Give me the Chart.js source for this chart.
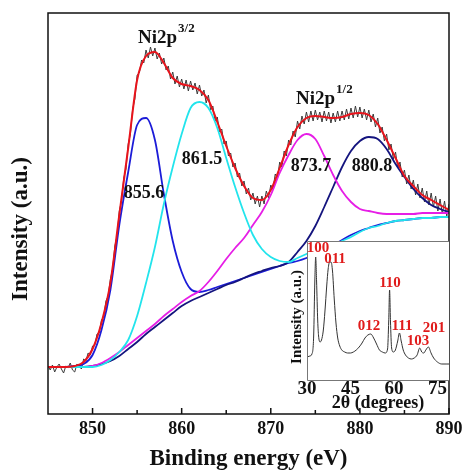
<!DOCTYPE html>
<html>
<head>
<meta charset="utf-8">
<script src="https://cdn.jsdelivr.net/npm/chart.js@4.4.0/dist/chart.umd.min.js"></script>
<style>
  body { margin: 0; background: #fff; }
  #wrap { position: relative; width: 463px; height: 475px; }
  #main { position: absolute; left: 0; top: 0; }
  #inset { position: absolute; left: 280px; top: 236px; }
</style>
</head>
<body>
<div id="wrap">
  <canvas id="main" width="463" height="475"></canvas>
  <canvas id="inset" width="175" height="178"></canvas>
</div>
<script>
// Ni 2p XPS spectrum (intensity in a.u., 0 = flat baseline below 848 eV)
const fitEnergy = [845, 846, 847, 848, 849, 850, 851, 852, 853, 854, 855, 856, 857, 858, 859, 860,
  861, 862, 863, 864, 865, 866, 867, 868, 869, 870, 871, 872, 873, 874, 875, 876, 877, 878, 879,
  880, 881, 882, 883, 884, 885, 886, 887, 888, 889, 890];

const envelopeFit = [0, 0, 0, 1, 5, 18, 44, 84, 152, 219, 287, 311, 315, 304, 289, 283,
  281, 277, 267, 245, 221, 199, 181, 169, 167, 177, 199, 222, 240, 249, 251, 250, 249, 250, 253,
  254, 252, 243, 227, 209, 191, 181, 172, 167, 162, 157];

const peak855 = [0, 0, 0, 1, 3, 12, 37, 77, 142, 195, 242, 249, 227, 173, 126, 95,
  78, 75, 77, 80, 83, 86, 89, 92, 95, 98, 101, 104, 106, 109, 113, 118, 122, 127, 132,
  136, 139, 142, 144, 146, 147, 148, 149, 149, 150, 150];

const peak861 = [0, 0, 0, 0, 0, 0, 2, 7, 15, 27, 51, 84, 120, 163, 200, 233,
  259, 265, 259, 239, 209, 180, 154, 132, 118, 110, 106, 105, 109, 113, 117, 119, 121, 126, 130,
  135, 139, 141, 144, 146, 147, 148, 149, 149, 150, 150];

const peak873 = [0, 0, 0, 0, 0, 1, 4, 9, 15, 22, 29, 36, 43, 51, 58, 65,
  71, 76, 85, 96, 108, 119, 129, 142, 155, 172, 194, 212, 227, 233, 228, 211, 192, 176, 165,
  158, 156, 154, 153, 153, 153, 153, 154, 154, 154, 154];

const peak880 = [0, 0, 0, 0, 0, 1, 3, 6, 11, 18, 25, 33, 40, 47, 54, 61,
  66, 70, 74, 78, 82, 85, 89, 93, 96, 99, 101, 105, 115, 126, 141, 160, 180, 200, 216,
  226, 230, 228, 218, 203, 190, 178, 169, 162, 158, 155];

// raw scan, one reading every 0.25 eV from 845 eV
const scanStart = 845;
const scanStep = 0.25;
const rawCounts = [1, -3, 2, -5, 0, 3, -2, -6, 1, -1, 4, -3, -5, 3, 1, -2, 8,
  6, 14, 12, 21, 22, 33, 34, 47, 50, 66, 71, 88, 98, 121, 131, 156,
  166, 189, 198, 223, 233, 258, 268, 292, 294, 307, 304, 317, 309, 320, 311, 319,
  308, 314, 303, 309, 297, 301, 288, 295, 283, 291, 280, 288, 278, 287, 276, 286,
  277, 284, 273, 282, 271, 277, 264, 272, 257, 261, 246, 250, 235, 238, 223, 226,
  211, 214, 200, 204, 190, 194, 181, 186, 173, 179, 167, 174, 163, 171, 160, 171,
  163, 176, 169, 182, 178, 193, 189, 205, 200, 216, 211, 227, 222, 236, 230, 246,
  238, 251, 243, 255, 245, 256, 246, 257, 247, 255, 245, 256, 246, 255, 244, 254,
  245, 256, 246, 256, 247, 258, 248, 259, 249, 261, 250, 260, 249, 258, 247, 257,
  245, 253, 240, 249, 234, 240, 226, 233, 217, 223, 208, 215, 199, 205, 190, 197,
  183, 192, 178, 187, 172, 183, 169, 179, 165, 176, 162, 174, 160, 171, 156, 168,
  153, 166, 151, 163];

const energyTicks = [850, 860, 870, 880, 890];
const energyMinorTicks = [855, 865, 875, 885];
const peakLabels = ['855.6', '861.5', '873.7', '880.8'];

// XRD inset
const twoTheta = [30, 31, 31.7, 32.3, 32.7, 33, 33.3, 33.7, 34, 34.5, 35, 35.6, 36.2, 36.8, 37.3,
  37.8, 38.3, 38.8, 39.4, 40, 40.6, 41.3, 42, 43, 44, 45, 46, 47, 48, 49, 50, 51, 52, 53, 54,
  55, 56, 57, 57.8, 58.2, 58.5, 58.8, 59.2, 59.8, 60.5, 61.3, 61.9, 62.5, 63.2, 64, 65, 66, 67,
  68, 68.9, 69.6, 70.3, 71, 71.9, 72.8, 73.7, 75, 76.5, 78, 79];
const xrdIntensity = [24, 25, 27, 45, 100, 124, 100, 60, 45, 39, 41, 50, 70, 95, 112,
  119, 119, 110, 82, 58, 43, 35, 31, 29, 28, 28, 29, 31, 34, 38, 43, 46, 47, 43, 37,
  31, 29, 28, 32, 60, 91, 60, 33, 29, 31, 40, 48, 40, 31, 26, 23, 22, 23,
  26, 33, 29, 28, 31, 34, 28, 23, 19, 17, 17, 17];
const xrdTicks = [30, 45, 60, 75];
const hklLabels = ['100', '011', '110', '012', '111', '103', '201'];

const serif = "'Liberation Serif', 'Times New Roman', serif";
const pts = (xs, ys) => ys.map((y, i) => ({ x: xs[i], y: y }));
const scanPts = rawCounts.map((y, i) => ({ x: scanStart + i * scanStep, y: y }));

const mainDecor = {
  id: 'mainDecor',
  afterDraw(chart) {
    const ctx = chart.ctx, a = chart.chartArea, xs = chart.scales.x;
    ctx.save();
    ctx.strokeStyle = '#111';
    ctx.lineWidth = 1.5;
    ctx.strokeRect(a.left, a.top, a.right - a.left, a.bottom - a.top);
    ctx.beginPath();
    energyTicks.forEach(v => { const p = xs.getPixelForValue(v); ctx.moveTo(p, a.bottom); ctx.lineTo(p, a.bottom - 6); });
    energyMinorTicks.forEach(v => { const p = xs.getPixelForValue(v); ctx.moveTo(p, a.bottom); ctx.lineTo(p, a.bottom - 4); });
    ctx.stroke();

    ctx.fillStyle = '#111';
    ctx.textAlign = 'center';
    ctx.textBaseline = 'middle';
    ctx.font = 'bold 18px ' + serif;
    const spots = [[144, 193], [202, 159], [311, 166], [372, 166]];
    peakLabels.forEach((t, i) => ctx.fillText(t, spots[i][0], spots[i][1]));

    ctx.textAlign = 'left';
    ctx.textBaseline = 'alphabetic';
    [[138, 43, '3/2'], [296, 104, '1/2']].forEach(([x, y, s]) => {
      ctx.font = 'bold 19px ' + serif;
      ctx.fillText('Ni2p', x, y);
      const w = ctx.measureText('Ni2p').width;
      ctx.font = 'bold 13px ' + serif;
      ctx.fillText(s, x + w + 1, y - 11);
    });

    ctx.translate(21, 229);
    ctx.rotate(-Math.PI / 2);
    ctx.textAlign = 'center';
    ctx.textBaseline = 'middle';
    ctx.font = 'bold 23px ' + serif;
    ctx.fillText('Intensity (a.u.)', 0, 0);
    ctx.restore();
  }
};

const line = (data, color, width, order, smooth) => ({
  data: data, borderColor: color, borderWidth: width, pointRadius: 0, order: order,
  fill: false, cubicInterpolationMode: smooth ? 'monotone' : 'default', tension: 0
});

new Chart(document.getElementById('main'), {
  type: 'line',
  data: {
    datasets: [
      line(pts(fitEnergy, envelopeFit), '#e8141c', 2, 0, true),
      line(pts(fitEnergy, peak861), '#22e4ec', 1.8, 1, true),
      line(pts(fitEnergy, peak873), '#e61ee6', 1.8, 2, true),
      line(pts(fitEnergy, peak880), '#14147e', 1.8, 3, true),
      line(pts(fitEnergy, peak855), '#1c1cd8', 1.8, 4, true),
      line(scanPts, '#3a3a3a', 1, 5, false)
    ]
  },
  options: {
    responsive: false,
    animation: false,
    devicePixelRatio: 1,
    events: [],
    layout: { padding: { left: 48, right: 14, top: 13, bottom: 0 } },
    plugins: { legend: { display: false }, tooltip: { enabled: false } },
    scales: {
      x: {
        type: 'linear', min: 845, max: 890,
        border: { display: false },
        grid: { display: false, drawTicks: false },
        afterBuildTicks: s => { s.ticks = energyTicks.map(v => ({ value: v })); },
        ticks: { autoSkip: false, maxRotation: 0, padding: 0, color: '#111',
          font: { family: serif, weight: 'bold', size: 18, lineHeight: 1.65 } },
        title: { display: true, text: 'Binding energy (eV)', color: '#111',
          font: { family: serif, weight: 'bold', size: 23 }, padding: { top: 0, bottom: 2 } },
        afterFit: s => { s.height = 61; }
      },
      y: { display: false, min: -47, max: 354 }
    }
  },
  plugins: [mainDecor]
});

const insetDecor = {
  id: 'insetDecor',
  beforeDatasetsDraw(chart) {
    const ctx = chart.ctx, a = chart.chartArea;
    ctx.save();
    ctx.fillStyle = '#fff';
    ctx.fillRect(a.left, a.top, a.right - a.left, a.bottom - a.top);
    ctx.restore();
  },
  afterDraw(chart) {
    const ctx = chart.ctx, a = chart.chartArea;
    ctx.save();
    ctx.strokeStyle = '#777';
    ctx.lineWidth = 1;
    ctx.beginPath();
    ctx.moveTo(a.right, a.top + 0.5); ctx.lineTo(a.left + 0.5, a.top + 0.5);
    ctx.lineTo(a.left + 0.5, a.bottom - 0.5); ctx.lineTo(a.right, a.bottom - 0.5);
    ctx.stroke();

    ctx.fillStyle = '#e01b1b';
    ctx.font = 'bold 15px ' + serif;
    ctx.textAlign = 'center';
    ctx.textBaseline = 'middle';
    const spots = [[38, 12], [55, 23], [110, 47], [89, 90], [122, 90], [138, 105], [154, 92]];
    hklLabels.forEach((t, i) => ctx.fillText(t, spots[i][0], spots[i][1]));

    ctx.fillStyle = '#111';
    ctx.translate(17, 81);
    ctx.rotate(-Math.PI / 2);
    ctx.fillText('Intensity (a.u.)', 0, 0);
    ctx.restore();
  }
};

new Chart(document.getElementById('inset'), {
  type: 'line',
  data: {
    datasets: [line(pts(twoTheta, xrdIntensity), '#333', 1, 0, true)]
  },
  options: {
    responsive: false,
    animation: false,
    devicePixelRatio: 1,
    events: [],
    layout: { padding: { left: 27, right: 6, top: 5, bottom: 0 } },
    plugins: { legend: { display: false }, tooltip: { enabled: false } },
    scales: {
      x: {
        type: 'linear', min: 30, max: 79,
        border: { display: false },
        grid: { display: false, drawTicks: false },
        afterBuildTicks: s => { s.ticks = xrdTicks.map(v => ({ value: v })); },
        ticks: { autoSkip: false, maxRotation: 0, padding: 0, color: '#111',
          font: { family: serif, weight: 'bold', size: 19, lineHeight: 0.85 } },
        title: { display: true, text: '2θ (degrees)', color: '#111',
          font: { family: serif, weight: 'bold', size: 18 }, padding: { top: 0, bottom: 0 } },
        afterFit: s => { s.height = 33; }
      },
      y: { display: false, min: 0, max: 140 }
    }
  },
  plugins: [insetDecor]
});
</script>
</body>
</html>
